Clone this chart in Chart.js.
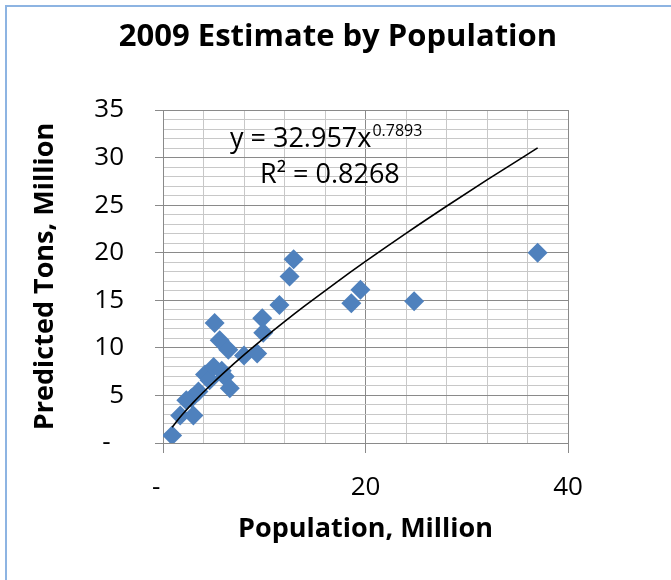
<!DOCTYPE html>
<html>
<head>
<meta charset="utf-8">
<title>2009 Estimate by Population</title>
<script src="https://cdn.jsdelivr.net/npm/chart.js@4.4.1/dist/chart.umd.min.js"></script>
<style>
  html, body { margin: 0; padding: 0; background: #ffffff; }
  #wrap { position: relative; width: 671px; height: 580px; overflow: hidden; }
  #frame {
    position: absolute; left: 5px; top: 5px; width: 700px; height: 600px;
    border-left: 2px solid #8DB4E2; border-top: 2px solid #8DB4E2;
  }
  #myChart { position: absolute; left: 0; top: 0; }
</style>
</head>
<body>
<div id="wrap">
  <div id="frame"></div>
  <canvas id="myChart" width="671" height="580"></canvas>
</div>
<script>
// Population (million) and predicted tons (million)
let population = [0.9, 1.7, 3.0, 2.8, 2.3, 3.5, 4.15, 4.6, 5.0, 5.1, 5.6, 6.45, 6.1, 6.6, 5.8,
                  8.0, 9.3, 9.8, 9.9, 11.5, 12.5, 12.9, 18.6, 19.5, 24.8, 37.0];
let predictedTons = [0.8, 2.9, 2.9, 4.7, 4.5, 5.4, 7.2, 6.6, 8.0, 12.6, 10.8, 9.8, 7.0, 5.75, 7.6,
                     9.2, 9.4, 13.1, 11.6, 14.5, 17.5, 19.3, 14.7, 16.1, 14.9, 20.0];

// Power trendline as printed on the chart: y = 32.957x^0.7893 (x, y in persons / tons)
let trendCoef = 32.957;
let trendPower = 0.7893;
let trendX = [0.9, 1.5, 2, 3, 4, 5, 6, 8, 10, 12, 14, 17, 20, 24, 28, 32, 37];

let chartTitle = "2009 Estimate by Population";
let xTickLabels = { 0: "-  ", 20: "20", 40: "40" };
let yTickLabels = { 0: "-  ", 5: "5", 10: "10", 15: "15", 20: "20", 25: "25", 30: "30", 35: "35" };

let scatterData = population.map((x, i) => ({ x: x, y: predictedTons[i] }));
let trendData = trendX.map((x) => ({ x: x, y: trendCoef * Math.pow(x * 1e6, trendPower) / 1e6 }));

const majorGrid = "#8A8A8A";
const minorGrid = "#C8C8C8";

// Draws the chart title, the trendline equation and R² text
const chartTexts = {
  id: "chartTexts",
  afterDraw(chart) {
    const c = chart.ctx;
    c.save();
    c.fillStyle = "#000000";
    c.textAlign = "center";
    c.textBaseline = "middle";
    c.font = "bold 31px 'Open Sans'";
    c.fillText(chartTitle, 338, 37);

    c.textAlign = "left";
    c.textBaseline = "alphabetic";
    c.font = "27px 'Open Sans'";
    let main = "y = " + trendCoef + "x";
    c.fillText(main, 230, 147);
    let w = c.measureText(main).width;
    c.font = "16px 'Open Sans'";
    c.fillText(String(trendPower), 230 + w + 1, 136);
    c.font = "27px 'Open Sans'";
    c.fillText("R\u00B2 = 0.8268", 260, 183);
    c.restore();
  },
};

const ctx = document.getElementById("myChart").getContext("2d");
const myChart = new Chart(ctx, {
  type: "scatter",
  data: {
    datasets: [
      {
        type: "line",
        label: "Power trendline",
        data: trendData,
        borderColor: "#000000",
        borderWidth: 1.6,
        pointRadius: 0,
        fill: false,
        cubicInterpolationMode: "monotone",
        order: 0,
      },
      {
        label: "Predicted Tons",
        data: scatterData,
        pointStyle: "rectRot",
        pointRadius: 10,
        backgroundColor: "#4F81BD",
        borderColor: "#4F81BD",
        borderWidth: 0,
        order: 1,
      },
    ],
  },
  options: {
    responsive: false,
    animation: false,
    layout: { padding: { top: 110, left: 0, right: 103, bottom: 0 } },
    plugins: {
      legend: { display: false },
      tooltip: { enabled: false },
      title: { display: false },
    },
    scales: {
      x: {
        type: "linear",
        min: 0,
        max: 40,
        afterFit: (scale) => { scale.height = 137; },
        ticks: {
          stepSize: 4,
          autoSkip: false,
          maxRotation: 0,
          padding: 19,
          color: "#000000",
          font: { family: "'Open Sans'", size: 26 },
          callback: (v) => (xTickLabels[v] !== undefined ? xTickLabels[v] : ""),
        },
        grid: {
          color: (c) => (c.tick && c.tick.value % 20 === 0 ? majorGrid : minorGrid),
          tickColor: (c) => (c.tick && c.tick.value % 20 === 0 ? majorGrid : "rgba(0,0,0,0)"),
          tickLength: 10,
        },
        border: { color: majorGrid },
        title: {
          display: true,
          text: "Population, Million",
          color: "#000000",
          font: { family: "'Open Sans'", size: 27, weight: "bold" },
          padding: { top: 34, bottom: 34 },
        },
      },
      y: {
        type: "linear",
        min: 0,
        max: 35,
        afterFit: (scale) => { scale.width = 163; },
        ticks: {
          stepSize: 1,
          autoSkip: false,
          padding: 31,
          color: "#000000",
          font: { family: "'Open Sans'", size: 26 },
          callback: (v) => (yTickLabels[v] !== undefined ? yTickLabels[v] : ""),
        },
        grid: {
          color: (c) => (c.tick && c.tick.value % 5 === 0 ? majorGrid : minorGrid),
          tickColor: (c) => (c.tick && c.tick.value % 5 === 0 ? majorGrid : "rgba(0,0,0,0)"),
          tickLength: 8,
        },
        border: { color: majorGrid },
        title: {
          display: true,
          text: "Predicted Tons, Million",
          color: "#000000",
          font: { family: "'Open Sans'", size: 27, weight: "bold" },
          padding: { top: 29, bottom: 29 },
        },
      },
    },
  },
  plugins: [chartTexts],
});
</script>
</body>
</html>
